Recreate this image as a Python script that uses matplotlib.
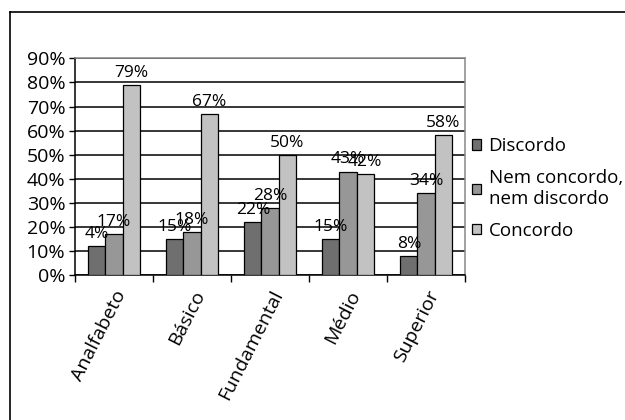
import numpy as np
import matplotlib.pyplot as plt
from matplotlib.lines import Line2D

plt.rcParams['font.family'] = ['Open Sans', 'DejaVu Sans']

categories = ["Analfabeto", "Básico", "Fundamental", "Médio", "Superior"]
series = ["Discordo", "Nem concordo,\nnem discordo", "Concordo"]
# bar heights as drawn in the picture
discordo = [12, 15, 22, 15, 8]
nem = [17, 18, 28, 43, 34]
concordo = [79, 67, 50, 42, 58]
# printed labels (first one differs from the drawn bar)
discordo_lbl = ["4%", "15%", "22%", "15%", "8%"]
nem_lbl = ["17%", "18%", "28%", "43%", "34%"]
concordo_lbl = ["79%", "67%", "50%", "42%", "58%"]

colors = ["#6f6f6f", "#979797", "#c2c2c2"]

fig = plt.figure(figsize=(6.25, 4.2), dpi=100)
ax = fig.add_axes([0.12, 0.345, 0.624, 0.516])

ind = np.arange(len(categories))
width = 0.218

all_vals = [discordo, nem, concordo]
all_lbls = [discordo_lbl, nem_lbl, concordo_lbl]
for k in range(3):
    xs = ind + (k - 1) * width
    bars = ax.bar(xs, all_vals[k], width, color=colors[k], edgecolor='black',
                  linewidth=0.9, label=series[k], zorder=3)
    for b, t in zip(bars, all_lbls[k]):
        ax.annotate(t, (b.get_x() + b.get_width() / 2, b.get_height()),
                    xytext=(0, 3), textcoords='offset points',
                    ha='center', va='bottom', fontsize=12.5, zorder=4)

ax.set_xlim(-0.5, len(categories) - 0.5)
ax.set_ylim(0, 90)
ax.set_yticks(range(0, 91, 10))
ax.set_yticklabels(["%d%%" % v for v in range(0, 91, 10)], fontsize=14)
ax.yaxis.grid(True, color='black', linewidth=1.1, zorder=0)
ax.set_axisbelow(True)

ax.set_xticks(ind)
ax.set_xticklabels(categories, fontsize=14, rotation=63, ha='right',
                   rotation_mode='anchor')
ax.tick_params(axis='x', length=0, pad=9)
ax.set_xticks(np.arange(-0.5, len(categories)), minor=True)
ax.tick_params(axis='x', which='minor', length=5, width=1, direction='out')
ax.tick_params(axis='y', length=4, width=1, pad=3)

for s in ['left', 'bottom']:
    ax.spines[s].set_color('black')
    ax.spines[s].set_linewidth(1.1)
for s in ['top', 'right']:
    ax.spines[s].set_color('#888888')
    ax.spines[s].set_linewidth(1.1)

ax.legend(loc='center left', bbox_to_anchor=(1.018, 0.40), frameon=False,
          fontsize=13.5, handlelength=0.48, handleheight=0.48,
          handletextpad=0.4, labelspacing=0.75, borderaxespad=0,
          borderpad=0)

fig.add_artist(Line2D([0.016, 1.0], [0.971, 0.971], color='black',
                      linewidth=1.2, transform=fig.transFigure))
fig.add_artist(Line2D([0.016, 0.016], [0.0, 0.971], color='black',
                      linewidth=1.2, transform=fig.transFigure))

fig.savefig("out.png", dpi=100)
